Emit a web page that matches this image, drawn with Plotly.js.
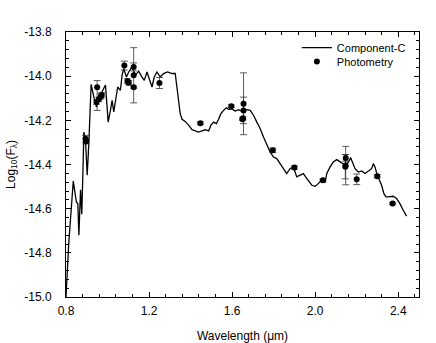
<!DOCTYPE html>
<html>
<head>
<meta charset="utf-8">
<script src="https://cdn.plot.ly/plotly-3.0.1.min.js"></script>
<style>html,body{margin:0;padding:0;background:#fff;}#chart{width:436px;height:343px;}</style>
</head>
<body>
<div id="chart"></div>
<script>
// Component-C model spectrum
const modelWave = [0.800,0.813,0.835,0.850,0.857,0.862,0.870,0.876,0.883,0.886,0.894,0.902,0.910,0.921,0.934,0.947,0.958,0.974,0.990,0.998,1.003,1.014,1.022,1.030,1.043,1.049,1.062,1.070,1.078,1.091,1.102,1.118,1.134,1.150,1.166,1.177,1.190,1.203,1.214,1.225,1.238,1.254,1.270,1.289,1.310,1.326,1.335,1.342,1.350,1.359,1.374,1.390,1.407,1.423,1.438,1.455,1.471,1.487,1.498,1.511,1.524,1.535,1.546,1.559,1.572,1.583,1.599,1.615,1.631,1.647,1.671,1.687,1.703,1.719,1.735,1.751,1.767,1.783,1.799,1.815,1.831,1.847,1.863,1.879,1.895,1.911,1.927,1.943,1.960,1.984,2.000,2.015,2.032,2.048,2.056,2.072,2.087,2.104,2.120,2.133,2.147,2.160,2.171,2.181,2.192,2.208,2.224,2.240,2.256,2.272,2.280,2.288,2.299,2.312,2.320,2.331,2.341,2.352,2.376,2.392,2.408,2.424,2.440];
const modelFlux = [-15.0,-14.76,-14.475,-14.57,-14.577,-14.72,-14.514,-14.625,-14.381,-14.253,-14.29,-14.449,-14.305,-14.037,-14.094,-14.14,-14.10,-14.07,-14.04,-14.14,-14.208,-14.155,-14.109,-14.162,-14.079,-14.049,-14.064,-13.996,-13.966,-14.004,-13.981,-13.958,-13.996,-13.977,-14.004,-14.019,-13.981,-14.019,-14.049,-14.004,-13.981,-14.004,-13.988,-13.981,-13.988,-13.988,-14.049,-14.11,-14.17,-14.195,-14.205,-14.222,-14.242,-14.248,-14.253,-14.248,-14.242,-14.248,-14.222,-14.208,-14.215,-14.195,-14.17,-14.155,-14.143,-14.15,-14.148,-14.158,-14.152,-14.159,-14.152,-14.155,-14.177,-14.208,-14.237,-14.275,-14.313,-14.343,-14.366,-14.373,-14.396,-14.419,-14.441,-14.419,-14.41,-14.456,-14.449,-14.441,-14.464,-14.494,-14.499,-14.486,-14.471,-14.479,-14.441,-14.411,-14.389,-14.378,-14.389,-14.396,-14.40,-14.389,-14.369,-14.396,-14.419,-14.434,-14.429,-14.441,-14.429,-14.419,-14.396,-14.411,-14.449,-14.479,-14.494,-14.532,-14.547,-14.547,-14.544,-14.554,-14.577,-14.607,-14.634];

// Photometry
const photWave  = [0.894,0.897,0.950,0.947,0.958,0.968,0.972,1.081,1.096,1.102,1.126,1.126,1.126,1.250,1.447,1.596,1.655,1.655,1.652,1.650,1.796,1.900,2.037,2.147,2.147,2.145,2.200,2.299,2.373];
const photFlux  = [-14.283,-14.295,-14.050,-14.117,-14.105,-14.092,-14.085,-13.952,-14.022,-14.030,-13.958,-13.996,-14.050,-14.031,-14.213,-14.136,-14.125,-14.155,-14.190,-14.195,-14.336,-14.414,-14.471,-14.405,-14.370,-14.410,-14.467,-14.453,-14.577];
const photErrUp = [0.015,0.012,0.030,0.010,0.010,0.012,0.010,0.020,0.010,0.010,0.018,0.125,0.005,0.025,0.006,0.006,0.140,0.060,0.005,0.005,0.010,0.008,0.005,0.087,0.015,0.055,0.024,0.008,0.005];
const photErrDn = [0.015,0.012,0.105,0.010,0.010,0.012,0.010,0.020,0.010,0.010,0.018,0.125,0.005,0.025,0.006,0.006,0.140,0.060,0.005,0.005,0.010,0.008,0.005,0.087,0.015,0.055,0.024,0.008,0.005];

const xTicks = [0.8,1.2,1.6,2.0,2.4];
const xTickText = ['0.8','1.2','1.6','2.0','2.4'];
const yTicks = [-15.0,-14.8,-14.6,-14.4,-14.2,-14.0,-13.8];
const yTickText = ['-15.0','-14.8','-14.6','-14.4','-14.2','-14.0','-13.8'];

const FAM = 'Liberation Sans, Arial, sans-serif';
const font = {family: FAM, size: 12, color: '#000'};

const traces = [
  {
    x: modelWave, y: modelFlux, type: 'scatter', mode: 'lines',
    name: 'Component-C', legend: 'legend',
    line: {color: '#000', width: 1.3}
  },
  {
    x: photWave, y: photFlux, type: 'scatter', mode: 'markers',
    name: 'Photometry', legend: 'legend2',
    marker: {color: '#000', size: 6},
    error_y: {type: 'data', symmetric: false, array: photErrUp, arrayminus: photErrDn,
              color: '#333', thickness: 0.8, width: 3.5}
  }
];

const axisCommon = {
  showgrid: false, zeroline: false, showline: true, linecolor: '#000', linewidth: 1,
  mirror: 'ticks', ticks: 'inside', ticklen: 5, tickwidth: 1, tickcolor: '#000',
  tickfont: font
};

const legFont = {family: FAM, size: 11, color: '#000'};

const layout = {
  width: 436, height: 343,
  margin: {l: 66, r: 17, t: 32, b: 46},
  paper_bgcolor: '#fff', plot_bgcolor: '#fff',
  font: font,
  showlegend: true,
  legend: {x: 0.654, y: 0.996, xanchor: 'left', yanchor: 'top', bgcolor: 'rgba(0,0,0,0)',
           font: legFont, itemwidth: 30},
  legend2: {x: 0.654, y: 0.943, xanchor: 'left', yanchor: 'top', bgcolor: 'rgba(0,0,0,0)',
           font: legFont, itemwidth: 30},
  xaxis: Object.assign({}, axisCommon, {
    range: [0.8, 2.5], tickvals: xTicks, ticktext: xTickText, ticklabelstandoff: 3,
    minor: {dtick: 0.08, tick0: 0.8, ticks: 'inside', ticklen: 3, tickcolor: '#000', tickwidth: 1},
    title: {text: 'Wavelength (\u03bcm)', font: {family: FAM, size: 12}, standoff: 14}
  }),
  yaxis: Object.assign({}, axisCommon, {
    range: [-15.0, -13.8], tickvals: yTicks, ticktext: yTickText, ticklabelstandoff: 11,
    minor: {dtick: 0.04, tick0: -15.0, ticks: 'inside', ticklen: 3, tickcolor: '#000', tickwidth: 1},
    title: {text: 'Log<sub>10</sub>(F<sub>\u03bb</sub>)', font: {family: FAM, size: 12}, standoff: 6}
  })
};

Plotly.newPlot('chart', traces, layout, {displayModeBar: false, staticPlot: true});
</script>
</body>
</html>
